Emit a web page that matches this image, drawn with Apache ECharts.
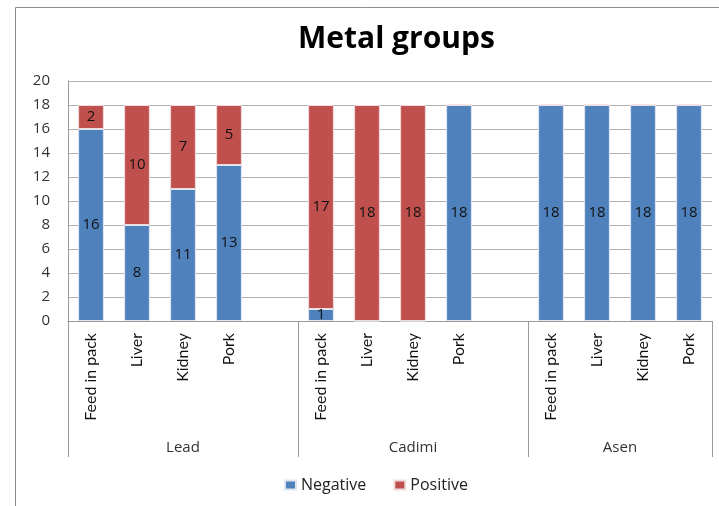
<!DOCTYPE html>
<html>
<head>
<meta charset="utf-8">
<title>Metal groups</title>
<script src="https://cdn.jsdelivr.net/npm/echarts@6/dist/echarts.min.js"></script>
<style>
  html, body { margin: 0; padding: 0; background: #fff; }
  #chart { width: 719px; height: 506px; }
</style>
</head>
<body>
<div id="chart"></div>
<script>
// Sample types per metal; empty slots keep a gap between the metal groups
var categories = ['Feed in pack', 'Liver', 'Kidney', 'Pork', '',
                  'Feed in pack', 'Liver', 'Kidney', 'Pork', '',
                  'Feed in pack', 'Liver', 'Kidney', 'Pork'];
var groups = ['Lead', 'Cadimi', 'Asen'];
var groupCenters = [2.5, 7.5, 12];
var groupEdges = [0, 5, 10, 14];

var negative = [16, 8, 11, 13, null, 1, 0, 0, 18, null, 18, 18, 18, 18];
var positive = [2, 10, 7, 5, null, 17, 18, 18, 0, null, 0, 0, 0, 0];

var yTicks = { min: 0, max: 20, step: 2 };

var WIDE = '"Open Sans", "Noto Sans", sans-serif';
var NARROW = 'Lato, "Open Sans", sans-serif';
var chart = echarts.init(document.getElementById('chart'), null, { renderer: 'canvas' });

function segLabel(p) { return p.value ? String(p.value) : ''; }

chart.setOption({
  animation: false,
  backgroundColor: '#fff',
  graphic: [{
    type: 'rect',
    shape: { x: 15.5, y: 7.5, width: 760, height: 560 },
    style: { fill: 'none', stroke: '#8c8c8c', lineWidth: 1 },
    silent: true
  }],
  title: {
    text: 'Metal groups',
    left: 293,
    top: 19,
    textStyle: { fontFamily: WIDE, fontWeight: 'bold', fontSize: 30, color: '#000' }
  },
  legend: {
    data: ['Negative', 'Positive'],
    left: 279,
    top: 472,
    itemWidth: 11,
    itemHeight: 9,
    itemGap: 27,
    icon: 'rect',
    textStyle: { fontFamily: WIDE, fontSize: 16, color: '#222' }
  },
  grid: { left: 68, right: 7, top: 81, bottom: 185, containLabel: false },
  xAxis: [{
    type: 'category',
    data: categories,
    position: 'bottom',
    axisLine: { show: true, lineStyle: { color: '#9a9a9a', width: 1 } },
    axisTick: { show: false },
    axisLabel: {
      interval: 0,
      rotate: 90,
      margin: 12,
      fontFamily: NARROW,
      fontSize: 16,
      color: '#111'
    },
    splitLine: { show: false }
  }, {
    type: 'value',
    min: 0,
    max: categories.length,
    position: 'bottom',
    axisLine: { show: false },
    axisTick: {
      show: true,
      customValues: groupEdges,
      length: 136,
      lineStyle: { color: '#9a9a9a', width: 1 }
    },
    axisLabel: {
      show: true,
      customValues: groupCenters,
      margin: 119,
      fontFamily: WIDE,
      fontSize: 15,
      color: '#333',
      formatter: function (v) {
        var i = groupCenters.indexOf(v);
        return i >= 0 ? groups[i] : '';
      }
    },
    splitLine: { show: false }
  }],
  yAxis: {
    type: 'value',
    min: yTicks.min,
    max: yTicks.max,
    interval: yTicks.step,
    axisLine: { show: true, lineStyle: { color: '#9a9a9a', width: 1 } },
    axisTick: { show: false },
    axisLabel: { margin: 18, fontFamily: WIDE, fontSize: 15, color: '#333' },
    splitLine: { show: true, lineStyle: { color: '#b4b4b4', width: 1 } }
  },
  series: [{
    name: 'Negative',
    type: 'bar',
    stack: 'metal',
    data: negative,
    barWidth: '56%',
    itemStyle: { color: '#4f81bd', borderColor: '#dfe6ef', borderWidth: 1 },
    label: { show: true, position: 'inside', formatter: segLabel,
             fontFamily: WIDE, fontSize: 15, color: '#111' }
  }, {
    name: 'Positive',
    type: 'bar',
    stack: 'metal',
    data: positive,
    barWidth: '56%',
    itemStyle: { color: '#c0504d', borderColor: '#efdcdc', borderWidth: 1 },
    label: { show: true, position: 'inside', formatter: segLabel,
             fontFamily: WIDE, fontSize: 15, color: '#111' }
  }]
});
</script>
</body>
</html>
